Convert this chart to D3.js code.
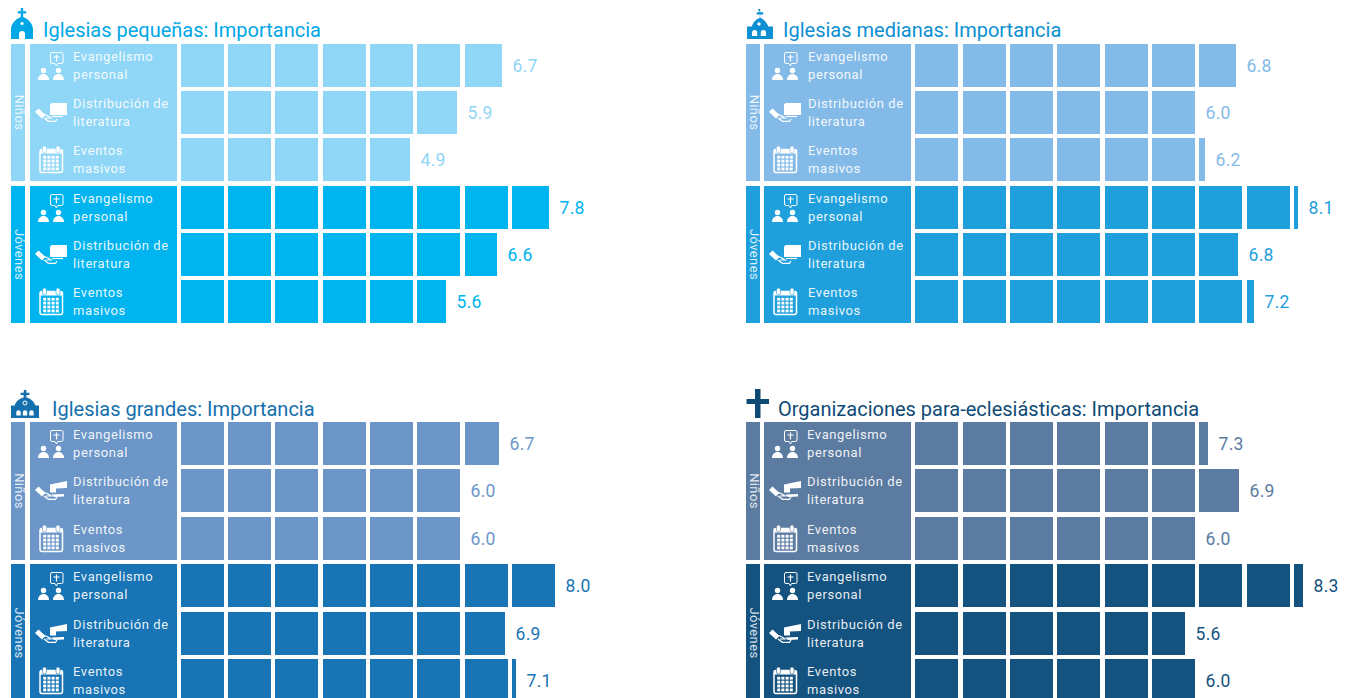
<!DOCTYPE html>
<html>
<head>
<meta charset="utf-8">
<script src="https://cdn.jsdelivr.net/npm/d3@7"></script>
<style>
html, body { margin: 0; padding: 0; background: #fff; overflow: hidden; }
svg { display: block; }
text { font-family: Roboto, sans-serif; }
</style>
</head>
<body>
<div id="chart"></div>
<script>
const width = 1349;
const height = 698;

const groups = ['Niños', 'Jóvenes'];
const activities = [
    ['Evangelismo', 'personal'],
    ['Distribución de', 'literatura'],
    ['Eventos', 'masivos']
];
const titles = [
    'Iglesias pequeñas: Importancia',
    'Iglesias medianas: Importancia',
    'Iglesias grandes: Importancia',
    'Organizaciones para-eclesiásticas: Importancia'
];

// printed numbers
const labelsPequenas = ['6.7', '5.9', '4.9', '7.8', '6.6', '5.6'];
const labelsMedianas = ['6.8', '6.0', '6.2', '8.1', '6.8', '7.2'];
const labelsGrandes = ['6.7', '6.0', '6.0', '8.0', '6.9', '7.1'];
const labelsOrgs = ['7.3', '6.9', '6.0', '8.3', '5.6', '6.0'];

// bar lengths as drawn (the 7.3 bar really is drawn short)
const barsPequenas = [6.79, 5.84, 4.84, 7.78, 6.68, 5.6];
const barsMedianas = [6.77, 6.0, 6.13, 8.08, 6.81, 7.15];
const barsGrandes = [6.72, 6.0, 6.0, 8.0, 6.85, 7.08];
const barsOrgs = [6.19, 6.85, 6.0, 8.2, 5.69, 6.0];

const colorsNinos = ['#8fd6f7', '#84bae8', '#6c96c8', '#5c7ba1'];
const colorsJovenes = ['#00b4f0', '#1fa0dc', '#1874b4', '#14527f'];
const colorsTitle = ['#00a7e6', '#0b8fd2', '#1570ad', '#0f4a75'];

const panels = [
    { left: 11, box: 30, text: 73, cells: 180.8, top: 44, pitch: 47.2, titleX: 43, titleY: 37, bars: barsPequenas, labels: labelsPequenas, icon: churchSmall, bookFlag: false },
    { left: 746, box: 764, text: 808, cells: 915.4, top: 44, pitch: 47.2, titleX: 783, titleY: 37, bars: barsMedianas, labels: labelsMedianas, icon: churchMedium, bookFlag: false },
    { left: 11, box: 30, text: 73, cells: 180.8, top: 422, pitch: 47.4, titleX: 52, titleY: 416, bars: barsGrandes, labels: labelsGrandes, icon: churchLarge, bookFlag: true },
    { left: 746, box: 764, text: 807, cells: 915.4, top: 422, pitch: 47.4, titleX: 778, titleY: 416, bars: barsOrgs, labels: labelsOrgs, icon: crossIcon, bookFlag: true }
];

const cellSize = 43;
const cellPitch = 47.3;

const svg = d3.select('#chart')
    .append('svg')
    .attr('width', width)
    .attr('height', height);

panels.forEach((p, i) => drawPanel(p, i));

function drawPanel(p, i) {
    const g = svg.append('g');
    const titleColor = colorsTitle[i];
    const fill = row => row < 3 ? colorsNinos[i] : colorsJovenes[i];

    const x = d3.scaleLinear().domain([0, 10]).range([p.cells, p.cells + 10 * cellPitch]);
    const y = d3.scaleLinear().domain([0, 6]).range([p.top, p.top + 6 * p.pitch]);

    g.append('text')
        .attr('x', p.titleX)
        .attr('y', p.titleY)
        .attr('fill', titleColor)
        .style('font-size', '20px')
        .text(titles[i]);

    p.icon(g.append('g'), titleColor);

    // Niños / Jóvenes side strips and activity boxes
    groups.forEach((name, k) => {
        const top = Math.round(y(k * 3));
        const h = Math.round(y(k * 3 + 2)) + cellSize - top;
        g.append('rect').attr('x', p.left).attr('y', top).attr('width', 14).attr('height', h).attr('fill', fill(k * 3));
        g.append('rect').attr('x', p.box).attr('y', top).attr('width', 147).attr('height', h).attr('fill', fill(k * 3));
        g.append('text')
            .attr('transform', `translate(${p.left + 3.5},${top + h / 2}) rotate(90)`)
            .attr('text-anchor', 'middle')
            .attr('fill', '#fff')
            .attr('fill-opacity', 0.85)
            .style('font-size', '13px')
            .style('letter-spacing', '0.4px')
            .text(name);
    });

    p.bars.forEach((v, row) => {
        const top = Math.round(y(row));
        const rowG = g.append('g');

        const cells = d3.range(10).filter(c => x(c) < x(v));
        const cellEnd = c => Math.min(Math.round(x(c)) + cellSize, Math.round(x(v)));
        rowG.selectAll('rect')
            .data(cells)
            .enter().append('rect')
            .attr('x', c => Math.round(x(c)))
            .attr('y', top)
            .attr('width', c => cellEnd(c) - Math.round(x(c)))
            .attr('height', cellSize)
            .attr('fill', fill(row));

        rowG.append('text')
            .attr('x', cellEnd(cells[cells.length - 1]) + 10.5)
            .attr('y', top + 27.5)
            .attr('fill', fill(row))
            .style('font-size', '17.5px')
            .style('letter-spacing', '0.3px')
            .text(p.labels[row]);

        const activity = activities[row % 3];
        activity.forEach((line, l) => {
            g.append('text')
                .attr('x', p.text)
                .attr('y', top + (l === 0 ? 17 : 35))
                .attr('fill', '#fff')
                .attr('fill-opacity', 0.92)
                .style('font-size', '13px')
                .style('letter-spacing', '0.6px')
                .text(line);
        });

        const icon = g.append('g').attr('transform', `translate(${p.box},${top})`);
        const bg = fill(row);
        if (row % 3 === 0) iconPeople(icon, bg);
        if (row % 3 === 1) iconBook(icon, bg, p.bookFlag);
        if (row % 3 === 2) iconCalendar(icon, bg);
    });
}

// icons, local coordinates
function iconPeople(g, bg) {
    g.append('path')
        .attr('d', 'M22 8.5h9.5a1.5 1.5 0 0 1 1.5 1.5v8a1.5 1.5 0 0 1-1.5 1.5h-4l-1 2.5-1.5-2.5h-3a1.5 1.5 0 0 1-1.5-1.5v-8a1.5 1.5 0 0 1 1.5-1.5z')
        .attr('fill', 'none')
        .attr('stroke', '#fff')
        .attr('stroke-width', 1);
    g.append('path')
        .attr('d', 'M26.5 10.5v7M23.5 13h6')
        .attr('stroke', '#fff')
        .attr('stroke-width', 1.2);
    [13.5, 28.5].forEach(cx => {
        g.append('circle').attr('cx', cx).attr('cy', 26.5).attr('r', 2.7).attr('fill', '#fff');
        g.append('path')
            .attr('d', `M${cx - 5.5} 36c0-3.5 2.5-6 5.500-6s5.500 2.500 5.500 6z`)
            .attr('fill', '#fff');
    });
}

function iconBook(g, bg, flag) {
    if (flag) {
        g.append('path').attr('d', 'M20 15.500l17-3.500v7l-11 .5v4h-6z').attr('fill', '#fff');
        g.append('path').attr('d', 'M21 25.500l13-.5v2.500l-10 .5z').attr('fill', '#fff');
    } else {
        g.append('path').attr('d', 'M22.500 12h14.500v12h-17v-9.500a2.500 2.500 0 0 1 2.500-2.500z').attr('fill', '#fff');
        g.append('path').attr('d', 'M22 25.500h11').attr('stroke', '#fff').attr('stroke-width', 1.2);
    }
    g.append('path')
        .attr('d', 'M5 21l3.500-3.500 7 6.500-3.500 3.500z')
        .attr('fill', '#fff');
    g.append('path')
        .attr('d', 'M12 22.500l6 2.500 3 2h-5M14 27l4.500 3.300h7l1.500-2.300')
        .attr('fill', 'none')
        .attr('stroke', '#fff')
        .attr('stroke-width', 1.2);
}

function iconCalendar(g, bg) {
    g.append('rect')
        .attr('x', 10).attr('y', 11.5)
        .attr('width', 22.5).attr('height', 23)
        .attr('rx', 2)
        .attr('fill', 'none')
        .attr('stroke', '#fff')
        .attr('stroke-width', 1.5);
    g.append('rect').attr('x', 10).attr('y', 11.5).attr('width', 22.5).attr('height', 4).attr('fill', '#fff');
    [14.5, 28].forEach(cx => {
        g.append('rect').attr('x', cx - 2).attr('y', 8).attr('width', 4).attr('height', 7).attr('rx', 2)
            .attr('fill', '#fff').attr('stroke', bg).attr('stroke-width', 0.6);
    });
    d3.range(4).forEach(r => d3.range(4).forEach(c => {
        g.append('rect')
            .attr('x', 13.2 + c * 4.2).attr('y', 17.8 + r * 3.9)
            .attr('width', 3).attr('height', 2.8)
            .attr('fill', '#fff');
    }));
}

function churchSmall(g, color) {
    g.append('path')
        .attr('d', 'M20.800 8h2.400v3.200h3v2.200h-3v3.600c5.500 2 9.800 7 9.800 12.500v9.500h-22v-9.500c0-5.500 4.300-10.500 9.800-12.500v-3.600h-3v-2.200h3z')
        .attr('fill', color);
    g.append('circle').attr('cx', 22).attr('cy', 23.500).attr('r', 1.600).attr('fill', '#fff');
    g.append('path').attr('d', 'M19 39v-5a3 3 0 0 1 6 0v5z').attr('fill', '#fff');
}

function churchMedium(g, color) {
    g.append('path')
        .attr('d', 'M757.800 9h2.400v3.200h3v2.200h-3v3.400c4 1.500 7 5 8 8.800h4.800v12.400h-26v-12.400h4.800c1-3.800 4-7.300 8-8.800v-3.400h-3v-2.200h3z')
        .attr('fill', color);
    g.append('circle').attr('cx', 759).attr('cy', 24).attr('r', 1.700).attr('fill', '#fff');
    g.append('path').attr('d', 'M752 36v-3.500a2.600 2.600 0 0 1 5.200 0v3.500zM760.800 36v-3.500a2.600 2.600 0 0 1 5.200 0v3.500z').attr('fill', '#fff');
}

function churchLarge(g, color) {
    g.append('path')
        .attr('d', 'M24 390h2.400v2.800h3v2.200h-3v2.600c4.500 1 8 4.500 9 8l3.600 0v12.400h-28v-12.400h3.600c1-3.500 4.500-7 9-8v-2.600h-3v-2.200h3z')
        .attr('fill', color);
    g.append('circle').attr('cx', 25).attr('cy', 403).attr('r', 2).attr('fill', 'none').attr('stroke', '#fff').attr('stroke-width', 1);
    [18.5, 25, 31.5].forEach(cx => {
        g.append('path').attr('d', `M${cx - 2.2} 415.500v-3a2.200 2.200 0 0 1 4.400 0v3z`).attr('fill', '#fff');
    });
}

function crossIcon(g, color) {
    g.append('path')
        .attr('d', 'M755 389h5.500v10h8.500v5h-8.500v14h-5.500v-14h-8.500v-5h8.500z')
        .attr('fill', color);
}
</script>
</body>
</html>
